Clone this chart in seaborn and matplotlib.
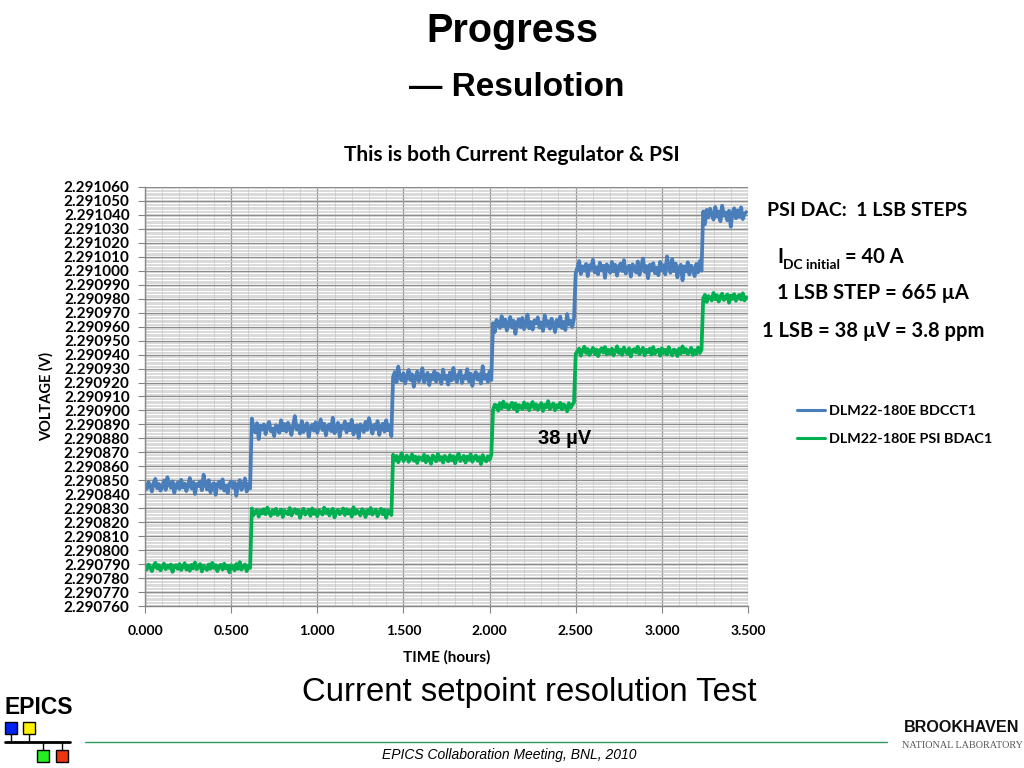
import matplotlib
matplotlib.use("Agg")
import matplotlib.pyplot as plt
import matplotlib.ticker as mticker
import numpy as np
import pandas as pd
import seaborn as sns
from matplotlib.patches import Rectangle
from matplotlib.lines import Line2D

# time axis, readings every 0.01 h
time_h = np.round(np.arange(0.0, 3.495, 0.01), 2)

# PSI DAC step times (hours) and plateau voltages
step_times = [0.62, 1.44, 2.02, 2.50, 3.24]
blue_levels = [2.2908456, 2.2908870, 2.2909233, 2.2909615, 2.2910010, 2.2910400]
green_levels = [2.2907875, 2.2908268, 2.2908652, 2.2909027, 2.2909420, 2.2909805]

# jitter around each plateau, in units of 0.3 uV
blue_noise = [
    4, -6, 10, 2, -12, 8, 18, -4, 6, -10, 0, 14, -8, 22, 5, -3, 12, -15, 2, 9, -6, 16, -2, 7, -11,
    3, 20, -5, 10, -18, 6, 1, 12, -9, 28, 4, -7, 15, -14, 3, 8, -20, 5, 11, -4, 17, -10, 2, -16, 6,
    12, -3, 9, -22, 4, 15, -8, 1, 19, -12, 6, -5, 24, 2, -9, 13, -25, 7, -2, 10, -13, 5, 16, -6, 0,
    -18, 8, 3, -10, 20, -4, 11, -7, 14, 1, -15, 9, 30, -2, 6, -12, 18, -8, 4, 13, -20, 2, 9, -5, 15,
    -10, 6, 22, -3, 12, -16, 5, 10, -6, 26, -11, 3, 14, -19, 7, 0, 17, -9, 11, -4, 21, -14, 4, 8, -22,
    10, 2, -8, 16, -3, 25, 6, -12, 9, -1, 18, -15, 5, 12, -7, 20, -4, 8, -18, 3, 14, -10, 27, 1, -6,
    11, -13, 4, 19, -5, 9, -21, 2, 15, -8, 6, 23, -11, 1, 12, -17, 7, -3, 16, -9, 10, 3, -14, 20, -2,
    5, -16, 13, -6, 24, 2, -10, 8, 17, -12, 4, -1, 21, -8, 10, -19, 6, 14, -4, 9, -13, 28, -2, 7, -9,
    15, -5, 3, -18, 11, 6, -8, 20, -3, 12, -14, 1, 18, -7, 9, -22, 4, 13, -6, 16, -11, 2, 24, -9, 6,
    -12, 10, 3, 17, -7, 5, -15, 22, -1, 8, -10, 14, 2, -18, 11, -4, 19, -8, 6, -13, 25, 0, 9, -6, 15,
    -9, 4, 20, -11, 7, -3, 13, -16, 10, 1, 23, -7, 5, -12, 16, -2, 9, -20, 12, 3, -8, 18, -5, 11, -15,
    6, 14, -4, 22, -10, 3, 9, -17, 12, 0, -7, 19, -13, 5, 26, -6, 8, -21, 11, -2, 15, -9, 4, -14, 18,
    -3, 10, -12, 31, 6, -8, 24, -4, 14, -19, 3, 11, -26, 7, -5, 17, -12, 9, 2, -16, 13, -7, 20, -3, 8,
    -22, 12, -6, 15, 1, -11, 19, -4, 8, -15, 22, -2, 6, -13, 10, -28, 4, 16, -8, 11, -5, 18, -10, 3, 7,
]
green_noise = [
    3, -5, 8, 1, -9, 4, 12, -2, 6, -7, 0, 10, -4, 5, -1, 8, -11, 3, 6, -3, 9, -6, 2, 11, -5,
    4, -8, 7, -2, 13, -4, 1, 9, -10, 5, 0, -6, 8, -3, 12, -1, 6, -9, 3, 7, -5, 10, -2, 4, -12,
    6, 1, -7, 9, -3, 14, -5, 2, 8, -9, 4, -1, 11, -6, 3, 7, -10, 5, -2, 9, -4, 13, 0, -8, 6,
    -3, 10, -6, 2, 8, -11, 5, 1, -4, 12, -7, 3, 9, -2, 6, -13, 4, 10, -5, 1, 7, -8, 11, -3, 5,
    -9, 6, 2, -5, 13, -1, 8, -7, 4, 10, -12, 3, 7, -4, 1, 11, -6, 9, -2, 5, -10, 14, -3, 6, 0,
    -7, 9, 4, -11, 6, -2, 12, -5, 3, 8, -9, 1, 10, -4, 7, -13, 5, 2, -6, 11, -3, 8, -8, 4, 15,
    -5, 3, 9, -7, 1, 12, -4, 6, -10, 5, 2, -3, 11, -8, 7, 0, -12, 9, 4, -6, 13, -2, 5, -9, 8,
    2, -6, 10, -3, 7, -11, 4, 14, -5, 1, 8, -9, 6, -2, 12, -7, 3, 9, -4, 5, -13, 10, 0, -6, 7,
    -2, 11, -8, 5, 3, -10, 9, -4, 13, -1, 6, -7, 2, 10, -5, 8, -12, 4, 1, -6, 11, -3, 7, -9, 5,
    12, -4, 6, -8, 2, 9, -11, 5, -1, 14, -6, 3, 8, -9, 4, -2, 10, -7, 6, 1, -12, 9, -3, 5, 11,
    -6, 2, 8, -10, 4, 13, -3, 7, -8, 1, 10, -5, 6, -11, 3, 9, -2, 12, -7, 5, -4, 8, -9, 2, 14,
    -3, 6, -8, 11, 1, -5, 9, -12, 4, 7, -2, 13, -6, 3, 10, -9, 5, -1, 8, -7, 12, -4, 2, 6, -10,
    9, -3, 5, -7, 12, 0, -9, 6, 3, -11, 8, -4, 14, -2, 7, -6, 1, 10, -8, 4, -5, 11, -3, 6, -1,
    8, -10, 5, 2, -6, 13, -3, 7, -9, 4, 11, -5, 1, 9, -12, 6, -2, 10, -7, 3, 8, -4, 12, -6, 2,
]
series_names = ["DLM22-180E BDCCT1", "DLM22-180E PSI BDAC1"]
colors = ["#4A7EBB", "#00B050"]

seg = np.searchsorted(step_times, time_h, side="right")
blue_v = np.array(blue_levels)[seg] + np.array(blue_noise) * 0.3e-6
green_v = np.array(green_levels)[seg] + np.array(green_noise) * 0.28e-6

df = pd.DataFrame({
    "time": np.concatenate([time_h, time_h]),
    "voltage": np.concatenate([blue_v, green_v]),
    "series": [series_names[0]] * len(time_h) + [series_names[1]] * len(time_h),
})

sns.set_theme(style="white")
plt.rcParams["font.family"] = ["Lato", "DejaVu Sans"]
for key in ["text.color", "axes.labelcolor", "xtick.color", "ytick.color"]:
    plt.rcParams[key] = "black"
arial = ["Liberation Sans", "DejaVu Sans"]


def px(x, y):
    return x / 1024, 1 - y / 768


fig = plt.figure(figsize=(10.24, 7.68), dpi=100)
ax = fig.add_axes([145 / 1024, 1 - 606 / 768, 603 / 1024, 419 / 768])

sns.lineplot(data=df, x="time", y="voltage", hue="series", palette=colors,
             estimator=None, sort=False, linewidth=2.7, ax=ax)

ax.set_xlim(0, 3.5)
ax.set_ylim(2.290760, 2.291060)
ax.xaxis.set_major_locator(mticker.MultipleLocator(0.5))
ax.xaxis.set_minor_locator(mticker.MultipleLocator(0.1))
ax.yaxis.set_major_locator(mticker.MultipleLocator(0.00001))
ax.yaxis.set_minor_locator(mticker.MultipleLocator(0.000001))
ax.xaxis.set_major_formatter(mticker.FormatStrFormatter("%.3f"))
ax.yaxis.set_major_formatter(mticker.FormatStrFormatter("%.6f"))
ax.grid(which="major", color="#8C8C8C", linewidth=0.9)
ax.grid(which="minor", color="#C4C4C4", linewidth=0.45)
ax.set_axisbelow(True)
for side in ["top", "right"]:
    ax.spines[side].set_visible(False)
for side in ["left", "bottom"]:
    ax.spines[side].set_color("#868686")
    ax.spines[side].set_linewidth(1)
ax.tick_params(which="major", length=5, width=0.8, color="#868686", direction="out",
               left=True, bottom=True)
ax.tick_params(which="minor", length=0)
ax.tick_params(axis="y", pad=6)
ax.tick_params(axis="x", pad=9)
for lab in ax.get_yticklabels():
    lab.set_fontweight("bold")
    lab.set_fontsize(11)
for lab in ax.get_xticklabels():
    lab.set_fontweight("bold")
    lab.set_fontsize(10)
ax.set_xlabel("TIME (hours)", fontsize=11, fontweight="bold", labelpad=9)
ax.set_ylabel("VOLTAGE (V)", fontsize=10.5, fontweight="bold", labelpad=7)

leg = ax.legend(loc="center left", bbox_to_anchor=px(790, 425), bbox_transform=fig.transFigure,
                frameon=False, borderpad=0, handlelength=1.95, handletextpad=0.28,
                labelspacing=1.05, prop={"weight": "bold", "size": 10.4})
for line in leg.get_lines():
    line.set_linewidth(2.2)

fig.text(*px(565, 438), "38 \u00b5V", ha="center", va="center", fontsize=14.5,
         fontweight="bold", family=arial)

# slide text
fig.text(*px(512, 31), "Progress", ha="center", va="center", fontsize=28.5,
         fontweight="bold", family=arial)
fig.text(*px(517, 88), "\u2014 Resulotion", ha="center", va="center", fontsize=24,
         fontweight="bold", family=arial)
fig.text(*px(512, 155), "This is both Current Regulator & PSI", ha="center", va="center",
         fontsize=15, fontweight="bold")
fig.text(*px(529, 693), "Current setpoint resolution Test", ha="center", va="center",
         fontsize=23.7, family=arial)
fig.text(*px(509, 755), "EPICS Collaboration Meeting, BNL, 2010", ha="center", va="center",
         fontsize=10, style="italic", family=arial)
fig.add_artist(Line2D([85 / 1024, 887 / 1024], [1 - 742 / 768] * 2, color="#2E9A5C",
                      linewidth=1, transform=fig.transFigure))

# annotations on the right
fig.text(*px(767, 211), "PSI DAC:  1 LSB STEPS", ha="left", va="center", fontsize=14,
         fontweight="bold")
fig.text(*px(777, 257), "I", ha="left", va="center", fontsize=14.5, fontweight="bold")
fig.text(*px(783, 265), "DC initial", ha="left", va="center", fontsize=10, fontweight="bold")
fig.text(*px(845, 257), "= 40 A", ha="left", va="center", fontsize=14.5, fontweight="bold")
fig.text(*px(777, 293), "1 LSB STEP = 665 \u00b5A", ha="left", va="center", fontsize=14.5,
         fontweight="bold")
fig.text(*px(762, 331), "1 LSB = 38 \u00b5V = 3.8 ppm", ha="left", va="center", fontsize=14.5,
         fontweight="bold")

# EPICS logo
fig.text(*px(4, 707), "EPICS", ha="left", va="center", fontsize=16.5, fontweight="bold",
         family=arial)
for (x0, y0, c) in [(5, 722, "#0022EE"), (23, 722, "#FFF200"), (37, 750, "#22EE22"), (56, 750, "#EE3311")]:
    fig.add_artist(Rectangle(px(x0, y0 + 12), 12 / 1024, 12 / 768, facecolor=c,
                             edgecolor="black", linewidth=1, transform=fig.transFigure))
fig.add_artist(Line2D([5 / 1024, 70 / 1024], [1 - 742 / 768] * 2, color="black", linewidth=2,
                      transform=fig.transFigure))
for xc, ya, yb in [(11, 734, 742), (29, 734, 742), (43, 742, 750), (62, 742, 750)]:
    fig.add_artist(Line2D([xc / 1024] * 2, [1 - ya / 768, 1 - yb / 768], color="black",
                          linewidth=1, transform=fig.transFigure))

# Brookhaven logo
fig.text(*px(962, 727), "BROOKHAVEN", ha="center", va="center", fontsize=11.6,
         fontweight="bold", family=arial, color="#111111")
fig.text(*px(962, 745), "NATIONAL LABORATORY", ha="center", va="center", fontsize=7.3,
         family=["Liberation Serif", "DejaVu Serif"], color="#555555")

fig.savefig("out.png", dpi=100)
